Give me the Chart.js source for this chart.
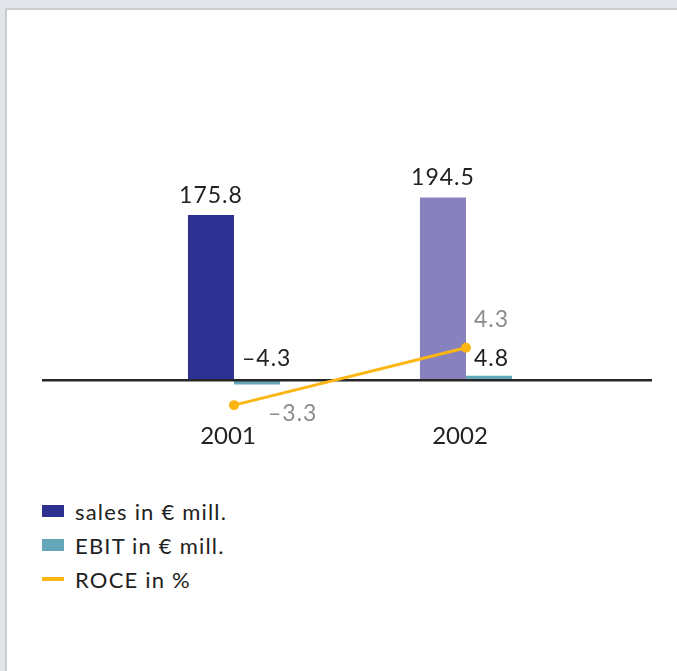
<!DOCTYPE html>
<html>
<head>
<meta charset="utf-8">
<title>Sales, EBIT and ROCE</title>
<script src="https://cdn.jsdelivr.net/npm/chart.js@4.4.1/dist/chart.umd.min.js"></script>
<style>
  html, body { margin: 0; padding: 0; width: 677px; height: 671px; overflow: hidden; background: #e2e5ea; font-family: Lato, "Open Sans", sans-serif; }
  #panel { position: absolute; left: 5px; top: 8px; right: 0; bottom: 0; background: #fff; border-top: 2px solid #cbcdd0; border-left: 2px solid #c9ccd1; }
  #wrap { position: absolute; left: 0; top: 0; width: 677px; height: 476px; }
  #legend { position: absolute; left: 42px; top: 494px; list-style: none; margin: 0; padding: 0; }
  #legend li { display: flex; align-items: center; height: 34px; font-size: 22px; letter-spacing: 1.2px; color: #222; }
  #legend .sw { width: 22px; margin-right: 11px; }
</style>
</head>
<body>
<div id="panel"></div>
<div id="wrap"><canvas id="chart"></canvas></div>
<ul id="legend"></ul>

<script>
// figures
var years = ['2001', '2002'];
var sales = [175.8, 194.5];
var ebit = [-4.3, 4.8];
var roce = [-3.3, 4.3];

var salesColors = ['#2e3192', '#8781bd'];
var ebitColor = '#64a7b9';
var roceColor = '#fbb614';
var textColor = '#222222';
var roceTextColor = '#8c8c8c';

function fmt(v) {
    return (v < 0 ? '\u2013' : '') + Math.abs(v).toFixed(1);
}

// zero line across the whole panel, under the ROCE line but over the bars
var zeroLine = {
    id: 'zeroLine',
    beforeDatasetDraw: function (chart, args) {
        if (args.meta.type !== 'line') return;
        var ctx = chart.ctx;
        var y = chart.scales.y.getPixelForValue(0);
        ctx.save();
        ctx.strokeStyle = '#262626';
        ctx.lineWidth = 2.5;
        ctx.beginPath();
        ctx.moveTo(42, y);
        ctx.lineTo(652, y);
        ctx.stroke();
        ctx.restore();
    }
};

// value labels next to every mark
var valueLabels = {
    id: 'valueLabels',
    afterDatasetsDraw: function (chart) {
        var ctx = chart.ctx;
        var zeroY = chart.scales.y.getPixelForValue(0);
        ctx.save();
        ctx.textBaseline = 'alphabetic';
        ctx.font = '23px Lato';
        ctx.letterSpacing = '1px';
        chart.data.datasets.forEach(function (ds, i) {
            var meta = chart.getDatasetMeta(i);
            meta.data.forEach(function (el, j) {
                var v = ds.data[j];
                if (ds.label.indexOf('sales') === 0) {
                    ctx.fillStyle = textColor;
                    ctx.textAlign = 'center';
                    ctx.fillText(fmt(v), el.x, el.y - 12);
                } else if (ds.label.indexOf('EBIT') === 0) {
                    ctx.fillStyle = textColor;
                    ctx.textAlign = 'left';
                    ctx.fillText(fmt(v), el.x - el.width / 2 + 8, zeroY - 14);
                } else {
                    ctx.fillStyle = roceTextColor;
                    ctx.textAlign = 'left';
                    if (v < 0) {
                        ctx.fillText(fmt(v), el.x + 34, el.y + 16);
                    } else {
                        ctx.fillText(fmt(v), el.x + 8, el.y - 21);
                    }
                }
            });
        });
        ctx.restore();
    }
};

var chart = new Chart(document.getElementById('chart').getContext('2d'), {
    type: 'bar',
    data: {
        labels: years,
        datasets: [{
            label: 'sales in \u20ac mill.',
            data: sales,
            backgroundColor: salesColors,
            order: 1
        }, {
            label: 'EBIT in \u20ac mill.',
            data: ebit,
            backgroundColor: ebitColor,
            order: 1
        }, {
            type: 'line',
            label: 'ROCE in %',
            data: roce,
            yAxisID: 'y1',
            borderColor: roceColor,
            backgroundColor: roceColor,
            borderWidth: 3,
            pointRadius: 5,
            pointBackgroundColor: roceColor,
            pointBorderWidth: 0,
            tension: 0,
            order: 0
        }]
    },
    options: {
        responsive: true,
        maintainAspectRatio: false,
        animation: false,
        categoryPercentage: 0.397,
        barPercentage: 1,
        layout: { padding: { left: 118, right: 95, top: 40, bottom: 25 } },
        plugins: {
            legend: { display: false },
            tooltip: { enabled: false }
        },
        scales: {
            x: {
                grid: { display: false },
                border: { display: false },
                ticks: { color: textColor, font: { family: 'Lato', size: 24 }, padding: 0, labelOffset: -6 }
            },
            y: { display: false, min: -36, max: 362 },
            y1: { display: false, min: -4.5, max: 45.1 }
        }
    },
    plugins: [zeroLine, valueLabels]
});

// legend list built from the datasets
var legend = document.getElementById('legend');
chart.data.datasets.forEach(function (ds) {
    var li = document.createElement('li');
    var sw = document.createElement('span');
    sw.className = 'sw';
    var c = Array.isArray(ds.backgroundColor) ? ds.backgroundColor[0] : ds.backgroundColor;
    sw.style.background = c;
    sw.style.height = ds.type === 'line' ? '4px' : '12px';
    li.appendChild(sw);
    li.appendChild(document.createTextNode(ds.label));
    legend.appendChild(li);
});
</script>
</body>
</html>
